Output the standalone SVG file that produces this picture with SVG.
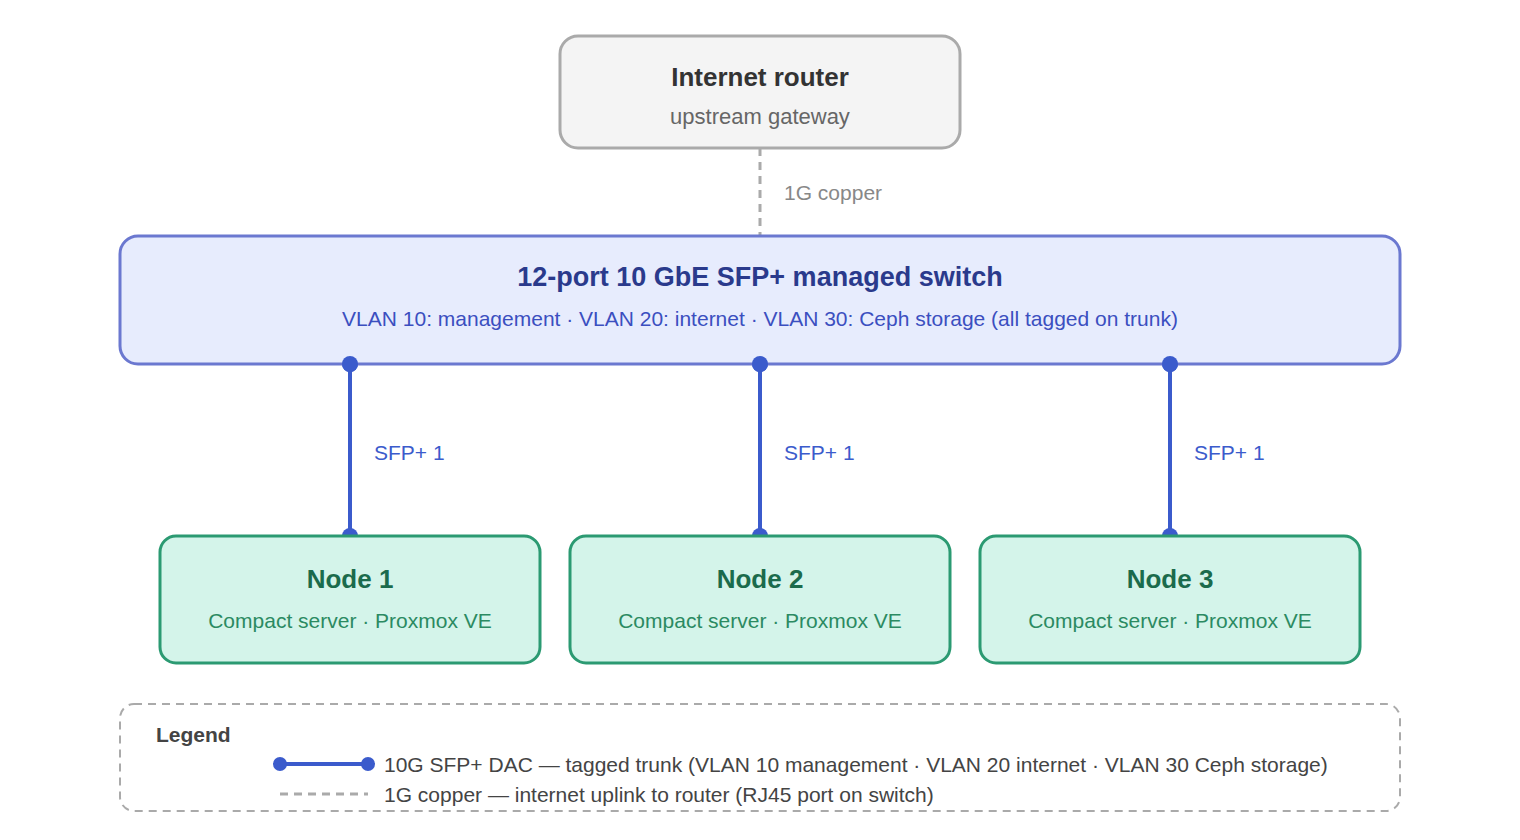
<svg xmlns="http://www.w3.org/2000/svg" width="1520" height="840" viewBox="0 0 1520 840">
<style>
text{font-family:"Liberation Sans",Arial,sans-serif;text-anchor:middle}
.trunk{stroke:#3b5bcc;stroke-width:4;fill:none}
.dot{fill:#3b5bcc}
.copper{stroke:#aaaaaa;stroke-width:3;stroke-dasharray:8 6;fill:none}
.node rect{fill:#d4f4ea;stroke:#2b9a72;stroke-width:3}
.nt{font-size:26px;font-weight:bold;fill:#1b6b4c}
.ns{font-size:21px;fill:#2b8a62}
.lbl{font-size:21px;fill:#3b5bcc;text-anchor:start}
</style>
<rect width="1520" height="840" fill="#fff"/>
<g id="connectors">
<line class="copper" x1="760" y1="148" x2="760" y2="236"/>
<text x="784" y="200" style="font-size:21px;fill:#888;text-anchor:start">1G copper</text>
<line class="trunk" x1="350" y1="364" x2="350" y2="536"/><circle class="dot" cx="350" cy="364" r="8"/><circle class="dot" cx="350" cy="536" r="8"/>
<line class="trunk" x1="760" y1="364" x2="760" y2="536"/><circle class="dot" cx="760" cy="364" r="8"/><circle class="dot" cx="760" cy="536" r="8"/>
<line class="trunk" x1="1170" y1="364" x2="1170" y2="536"/><circle class="dot" cx="1170" cy="364" r="8"/><circle class="dot" cx="1170" cy="536" r="8"/>
<text class="lbl" x="374" y="460">SFP+ 1</text>
<text class="lbl" x="784" y="460">SFP+ 1</text>
<text class="lbl" x="1194" y="460">SFP+ 1</text>
</g>
<g id="router">
<rect x="560" y="36" width="400" height="112" rx="18" fill="#f4f4f4" stroke="#aaaaaa" stroke-width="3"/>
<text x="760" y="86" style="font-size:26px;font-weight:bold;fill:#333">Internet router</text>
<text x="760" y="124" style="font-size:22px;fill:#666">upstream gateway</text>
</g>
<g id="switch">
<rect x="120" y="236" width="1280" height="128" rx="18" fill="#e7ecfd" stroke="#6b78d0" stroke-width="3" fill-opacity="1"/>
<text x="760" y="286" style="font-size:27px;font-weight:bold;fill:#2a3a8c">12-port 10 GbE SFP+ managed switch</text>
<text x="760" y="326" style="font-size:21px;fill:#3b4fc0">VLAN 10: management · VLAN 20: internet · VLAN 30: Ceph storage (all tagged on trunk)</text>
</g>
<circle class="dot" cx="350" cy="364" r="8"/><circle class="dot" cx="760" cy="364" r="8"/><circle class="dot" cx="1170" cy="364" r="8"/>
<g id="node1" class="node"><rect x="160" y="536" width="380" height="127" rx="16"/>
<text class="nt" x="350" y="588">Node 1</text><text class="ns" x="350" y="628">Compact server · Proxmox VE</text></g>
<g id="node2" class="node"><rect x="570" y="536" width="380" height="127" rx="16"/>
<text class="nt" x="760" y="588">Node 2</text><text class="ns" x="760" y="628">Compact server · Proxmox VE</text></g>
<g id="node3" class="node"><rect x="980" y="536" width="380" height="127" rx="16"/>
<text class="nt" x="1170" y="588">Node 3</text><text class="ns" x="1170" y="628">Compact server · Proxmox VE</text></g>
<g id="legend">
<rect x="120" y="704" width="1280" height="107" rx="14" fill="none" stroke="#aaaaaa" stroke-width="2" stroke-dasharray="8 6"/>
<text x="156" y="742" style="font-size:21px;font-weight:bold;fill:#444;text-anchor:start">Legend</text>
<line class="trunk" x1="280" y1="764" x2="368" y2="764"/><circle class="dot" cx="280" cy="764" r="7"/><circle class="dot" cx="368" cy="764" r="7"/>
<text x="384" y="772" style="font-size:21px;fill:#444;text-anchor:start">10G SFP+ DAC — tagged trunk (VLAN 10 management · VLAN 20 internet · VLAN 30 Ceph storage)</text>
<line class="copper" x1="280" y1="794" x2="368" y2="794"/>
<text x="384" y="802" style="font-size:21px;fill:#444;text-anchor:start">1G copper — internet uplink to router (RJ45 port on switch)</text>
</g>
</svg>
